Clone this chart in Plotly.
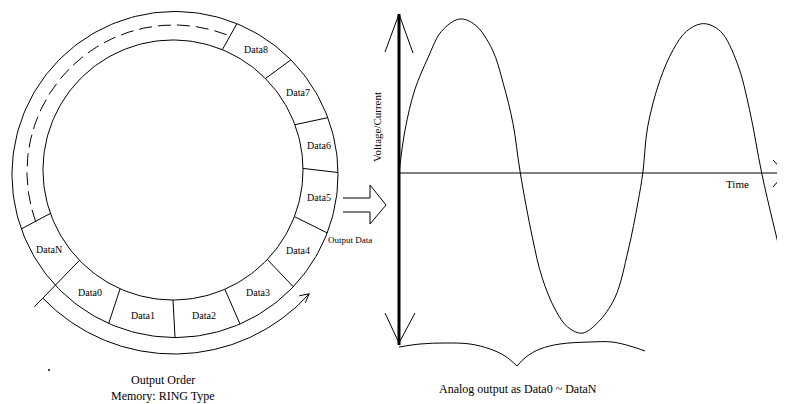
import numpy as np
import plotly.graph_objects as go

# ring memory: segment labels and divider angles (deg, counter-clockwise from +x)
seg_labels = ['Data8', 'Data7', 'Data6', 'Data5', 'Data4', 'Data3', 'Data2', 'Data1', 'Data0', 'DataN']
seg_edges = [67.7, 44.7, 20.4, 0.7, -21.0, -43.5, -66.5, -90.0, -114.0, -136.0, -160.5]

# analog output wave: time in half periods, value relative to peak
wave_t = [0.0, 0.05, 0.13, 0.24, 0.35, 0.50, 0.63, 0.77, 0.86, 0.94, 1.0,
          1.10, 1.18, 1.29, 1.39, 1.51, 1.64, 1.78, 1.89, 1.97, 2.01,
          2.05, 2.15, 2.26, 2.37, 2.51, 2.65, 2.79, 2.89, 2.99, 3.08, 3.17]
wave_v = [0.0, 0.28, 0.54, 0.75, 0.92, 1.0, 0.96, 0.80, 0.58, 0.32, 0.0,
          -0.42, -0.68, -0.89, -1.0, -1.04, -0.97, -0.81, -0.50, -0.19, 0.0,
          0.30, 0.60, 0.80, 0.92, 0.97, 0.92, 0.71, 0.41, 0.0, -0.31, -0.60]

W, H = 785, 404
OFF = 8  # page body margin, figure starts here
ink = 'black'
serif = 'Liberation Serif'

# ring geometry (page pixels)
co, ro = (175.0, 174.5), 163.0
ci, ri = (173.0, 170.0), 130.0
cm = (174.0, 172.0)


def pt(c, r, a):
    a = np.radians(a)
    return c[0] + r * np.cos(a), c[1] - r * np.sin(a)


def arc(c, r, a0, a1, n=120):
    a = np.radians(np.linspace(a0, a1, n))
    return c[0] + r * np.cos(a), c[1] - r * np.sin(a)


fig = go.Figure()


def line(xs, ys, width=1, dash=None, shape='linear'):
    fig.add_trace(go.Scatter(x=list(xs), y=list(ys), mode='lines', hoverinfo='skip',
                             line=dict(color=ink, width=width, dash=dash, shape=shape)))


# circles
for c, r in [(co, ro), (ci, ri)]:
    x, y = arc(c, r, 0, 360, 240)
    line(x, y)

# dashed middle arc (hidden part of the ring)
x, y = arc(cm, 147, 69, 200, 120)
line(x, y, dash='13px,6px')

# segment dividers
for i, a in enumerate(seg_edges):
    x0, y0 = pt(ci, ri, a)
    if seg_labels[i - 1:i] == ['Data0']:
        x1, y1 = pt(cm, 194, a)
    else:
        x1, y1 = pt(co, ro, a)
    line([x0, x1], [y0, y1])

# labels
for i, lab in enumerate(seg_labels):
    a = (seg_edges[i] + seg_edges[i + 1]) / 2
    x, y = pt(cm, 147, a)
    fig.add_annotation(x=x, y=y, text=lab, showarrow=False,
                       font=dict(family=serif, size=10, color=ink))

# output order arrow under the ring
x, y = arc(cm, 182, 224, 318, 160)
line(x, y)
tx, ty = x[-1], y[-1]
line([tx - 10, tx, tx - 4], [ty + 2, ty, ty + 9])

# block arrow to the graph
line([343, 370, 370, 386, 370, 370, 343], [198, 198, 185, 205, 224, 212, 212])

# graph axes
line([399, 399], [14, 345], width=3)
line([385, 399, 413], [52, 14, 53])
line([385, 399, 415], [313, 343, 313])
line([399, 785], [173, 173])
line([773, 785, 773], [160, 173, 187])

# brace under the graph (two halves meeting in a point)
line([399, 420, 445, 470, 490, 505, 517],
     [347, 344, 343, 344, 349, 356, 366], shape='spline')
line([517, 526, 540, 560, 590, 612, 630, 645],
     [366, 357, 349, 344, 342, 342, 346, 351], shape='spline')

# wave on its own axes
fig.add_trace(go.Scatter(x=wave_t, y=wave_v, xaxis='x2', yaxis='y2', mode='lines',
                         hoverinfo='skip', line=dict(color=ink, width=1, shape='spline')))

# small dot
fig.add_trace(go.Scatter(x=[49], y=[370], mode='markers', hoverinfo='skip',
                         marker=dict(color=ink, size=2)))

texts = [
    (350, 240, 'Output Data', 9, 0),
    (163, 380, 'Output Order', 12, 0),
    (163, 396, 'Memory: RING Type', 12, 0),
    (518, 389, 'Analog output as Data0 ~ DataN', 12, 0),
    (377, 127, 'Voltage/Current', 11, -90),
    (737, 184, 'Time', 11, 0),
]
for x, y, t, s, ang in texts:
    fig.add_annotation(x=x, y=y, text=t, showarrow=False, textangle=ang,
                       font=dict(family=serif, size=s, color=ink))

t_px = 121.3
v_px = 154.0
fig.update_layout(
    width=W - OFF, height=H - OFF, autosize=False,
    margin=dict(l=0, r=0, t=0, b=0),
    paper_bgcolor='white', plot_bgcolor='rgba(0,0,0,0)',
    showlegend=False,
    xaxis=dict(range=[OFF, W], visible=False, fixedrange=True),
    yaxis=dict(range=[H, OFF], visible=False, fixedrange=True),
    xaxis2=dict(domain=[(399 - OFF) / (W - OFF), 1], range=[0, (W - 399) / t_px], visible=False),
    yaxis2=dict(domain=[0, 1], range=[(173 - H) / v_px, (173 - OFF) / v_px], visible=False),
)

fig.write_html("out.html")
